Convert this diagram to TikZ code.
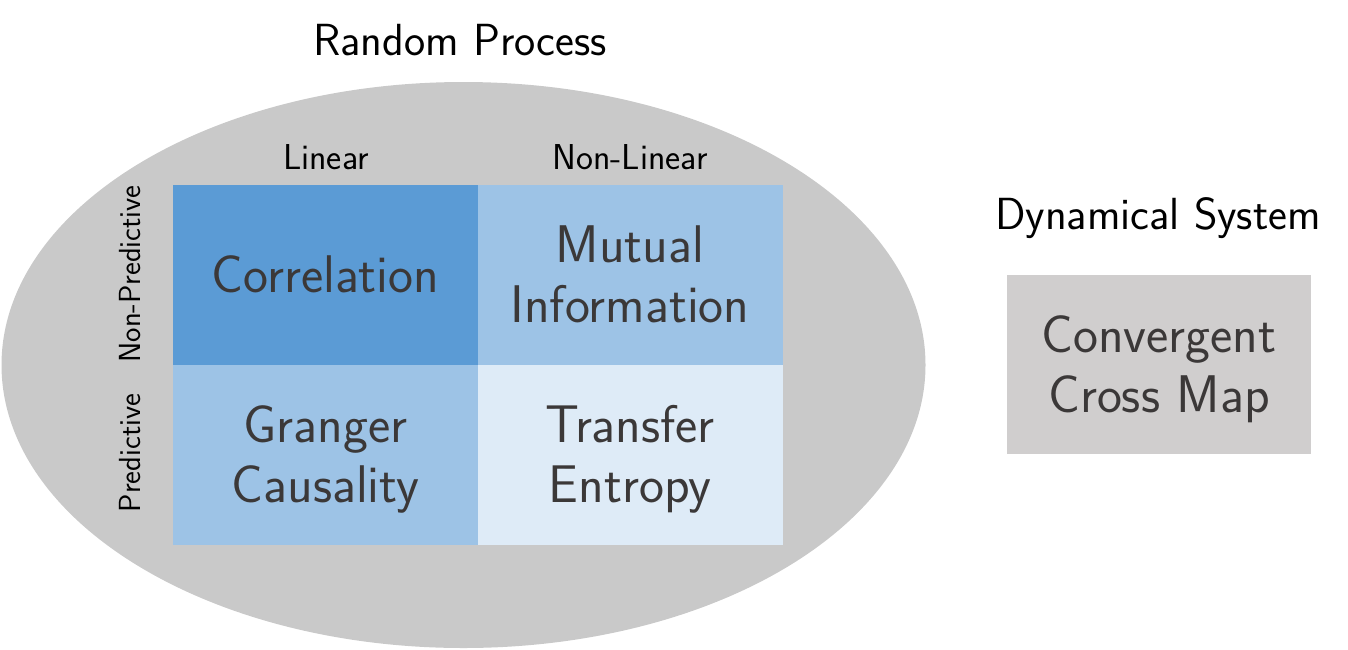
\documentclass[tikz,border=0pt]{standalone}
\usepackage{fontspec}
\definecolor{ellgrey}{HTML}{C9C9C9}
\definecolor{boxgrey}{HTML}{D0CECE}
\definecolor{blueA}{HTML}{5B9BD5}
\definecolor{blueB}{HTML}{9DC3E6}
\definecolor{blueC}{HTML}{DEEBF7}
\definecolor{txtgrey}{HTML}{3B3838}
\newcommand{\lowerstrut}{\rule{0pt}{46pt}}
\tikzset{
  cell/.style={minimum width=305pt, minimum height=180pt, inner sep=0pt, align=center, text=txtgrey,
     font=\sffamily\fontsize{53}{60}\selectfont},
  head/.style={font=\sffamily\fontsize{36}{42}\selectfont, text=black},
  side/.style={font=\sffamily\fontsize{30.5}{36}\selectfont, text=black, rotate=90},
  title/.style={font=\sffamily\fontsize{45}{52}\selectfont, text=black}
}
\begin{document}
\begin{tikzpicture}[x=1pt,y=-1pt]
\useasboundingbox (0,0) rectangle (1348,649);
\fill[ellgrey] (463.5,365) ellipse [x radius=462, y radius=283];
\node[title] (rp) at (460,40) {Random Process};
\node[cell, fill=blueA] (corr) at (325.5,274.5) {Correlation};
\node[cell, fill=blueB] (mi) at (630,274.5) {Mutual\\Information};
\node[cell, fill=blueB] (gc) at (325.5,454.5) {\lowerstrut Granger\\Causality};
\node[cell, fill=blueC] (te) at (630,454.5) {\lowerstrut Transfer\\Entropy};
\node[head] (lin) at (326,157) {Linear};
\node[head] (nlin) at (630,157) {Non-Linear};
\node[side] (np) at (130,274) {Non-Predictive};
\node[side] (pr) at (130,453) {Predictive};
\node[title] (ds) at (1158,218) {Dynamical System};
\node[cell, fill=boxgrey, minimum width=304pt, minimum height=179pt] (ccm) at (1159,364.5) {\lowerstrut Convergent\\Cross Map};
\end{tikzpicture}
\end{document}
